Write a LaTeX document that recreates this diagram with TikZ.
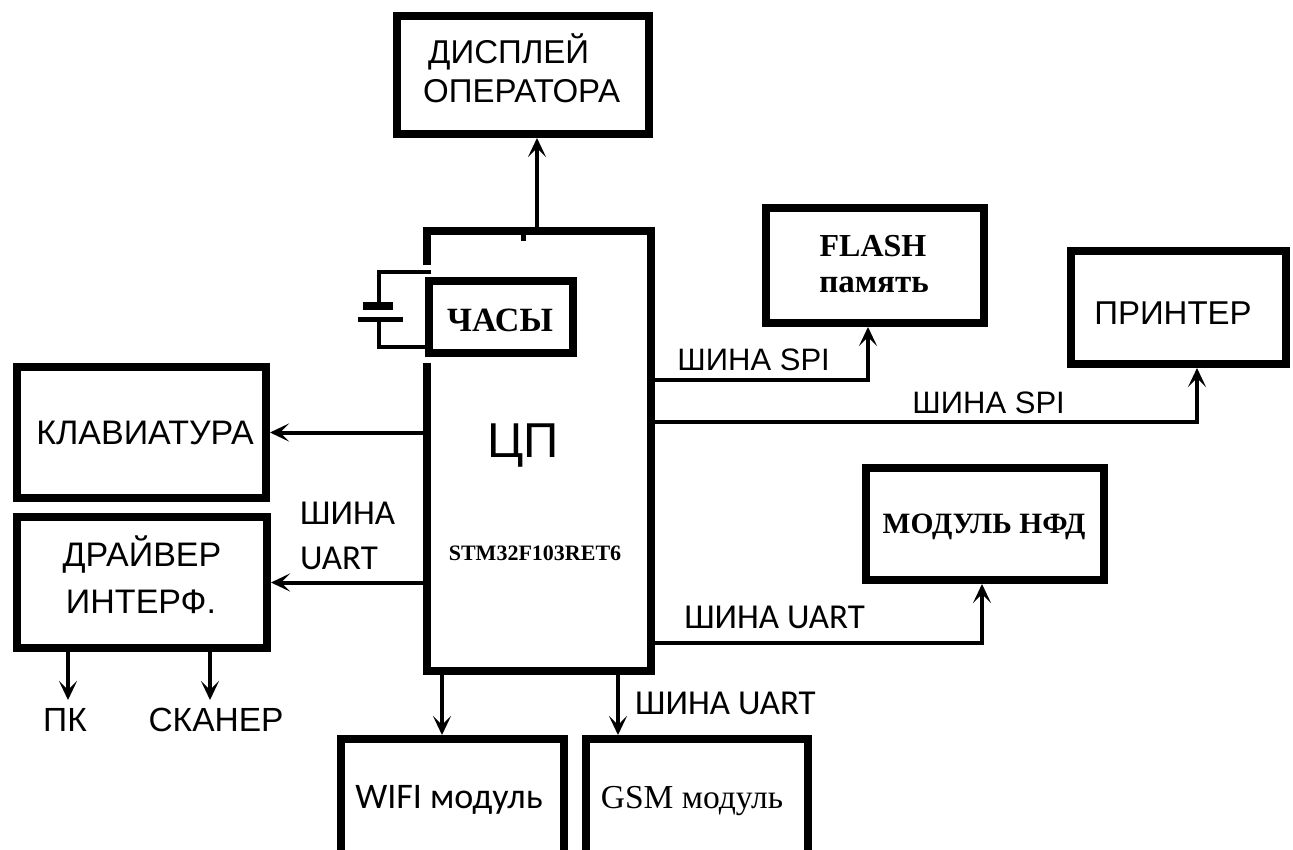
\documentclass[tikz,border=0pt]{standalone}
\usepackage{fontspec}
\newfontfamily\fsans{Liberation Sans}
\newfontfamily\fserif{Liberation Serif}
\newfontfamily\fcal{Carlito}
\usetikzlibrary{arrows.meta}
\tikzset{
  box/.style={draw, line width=8pt, inner sep=0pt},
  conn/.style={line width=4pt, -{Stealth[length=19pt,width=18pt,inset=9pt]}},
  wire/.style={line width=4pt},
  lbl/.style={inner sep=0pt, anchor=base},
  sans/.style={font=\fsans\fontsize{#1}{#1}\selectfont},
  serifb/.style={font=\fserif\bfseries\fontsize{#1}{#1}\selectfont},
  serif/.style={font=\fserif\fontsize{#1}{#1}\selectfont},
  cal/.style={font=\fcal\fontsize{#1}{#1}\selectfont},
}
\begin{document}
\begin{tikzpicture}[x=1pt,y=-1pt]
\useasboundingbox (0,0) rectangle (1293,849);
\clip (0,0) rectangle (1293,849);
\fill[white] (0,0) rectangle (1293,849);
% boxes
\node[box, minimum width=252pt, minimum height=118pt] (disp) at (523,75) {};
\node[box, minimum width=144pt, minimum height=72pt] (clock) at (501,317) {};
\node[inner sep=0pt, outer sep=0pt, minimum width=224pt, minimum height=440pt] (cpu) at (539,451) {};
\node[box, minimum width=218pt, minimum height=115pt] (flash) at (875,265.5) {};
\node[box, minimum width=215pt, minimum height=113pt] (printer) at (1178.5,307.5) {};
\node[box, minimum width=238pt, minimum height=112pt] (nfd) at (985,524) {};
\node[box, minimum width=249pt, minimum height=131pt] (kbd) at (141.5,432.5) {};
\node[box, minimum width=250pt, minimum height=131pt] (drv) at (142,582.5) {};
\node[box, minimum width=223pt, minimum height=132pt] (wifi) at (452.5,805) {};
\node[box, minimum width=222pt, minimum height=132pt] (gsm) at (697,805) {};
% CPU outline with gap for the clock
\draw[line width=8pt] (cpu.north west |- 0,265) -- (cpu.north west) -- (cpu.north east)
  -- (cpu.south east) -- (cpu.south west) -- (cpu.south west |- 0,363);
\draw[line width=5pt] (523,235) -- (523,241);
% battery
\coordinate (bt) at (379,272);
\coordinate (bb) at (379,347);
\draw[wire] (431,272) -- (bt) -- (379,302);
\fill (363,302) rectangle (393,310);
\fill (358,317) rectangle (403,322);
\draw[wire] (379,322) -- (bb) -- (clock.west |- bb);
% free ends
\coordinate (pkend) at (68,700);
\coordinate (scend) at (210,700);
% connectors
\draw[conn] (cpu.north -| 537,0) -- (disp.south -| 537,0);
\draw[conn] (cpu.west |- kbd.east) -- (kbd.east);
\draw[conn] (cpu.west |- drv.east) -- (drv.east);
\draw[conn] (drv.south -| pkend) -- (pkend);
\draw[conn] (drv.south -| scend) -- (scend);
\draw[conn] (cpu.east |- 0,380) -| (flash.south -| 868,0);
\draw[conn] (cpu.east |- 0,422) -| (printer.south -| 1197,0);
\draw[conn] (cpu.east |- 0,643) -| (nfd.south -| 982,0);
\draw[conn] (cpu.south -| 442,0) -- (wifi.north -| 442,0);
\draw[conn] (cpu.south -| 618,0) -- (gsm.north -| 618,0);
% texts
\node[lbl, sans=33, anchor=base west] (tdisp1) at (428,63) {ДИСПЛЕЙ};
\node[lbl, sans=33, anchor=base west] (tdisp2) at (423,102) {ОПЕРАТОРА};
\node[lbl, serifb=34] (tclock) at (500,331) {ЧАСЫ};
\node[lbl, sans=49] (tcpu) at (523,457) {ЦП};
\node[lbl, serifb=22] (tstm) at (535,560) {STM32F103RET6};
\node[lbl, serifb=32] (tflash1) at (873,256) {FLASH};
\node[lbl, serifb=33] (tflash2) at (874,292) {память};
\node[lbl, sans=33] (tprn) at (1173,324) {ПРИНТЕР};
\node[lbl, sans=34] (tkbd) at (145,444) {КЛАВИАТУРА};
\node[lbl, sans=34] (tdrv1) at (142,566) {ДРАЙВЕР};
\node[lbl, sans=34] (tdrv2) at (141,613) {ИНТЕРФ.};
\node[lbl, sans=33.5] (tpk) at (65,731) {ПК};
\node[lbl, sans=33.5] (tsc) at (216,731) {СКАНЕР};
\node[lbl, sans=31, anchor=base east] (tspi1) at (830,370) {ШИНА SPI};
\node[lbl, sans=31, anchor=base east] (tspi2) at (1065,413) {ШИНА SPI};
\node[lbl, cal=35, anchor=base east] (tuart1) at (865,628) {ШИНА UART};
\node[lbl, cal=35, anchor=base west] (tuart2) at (635,714) {ШИНА UART};
\node[lbl, cal=35, anchor=base west] (tuart3a) at (300,524) {ШИНА};
\node[lbl, cal=35, anchor=base west] (tuart3b) at (300,569) {UART};
\node[lbl, serifb=29.5] (tnfd) at (984,533) {МОДУЛЬ НФД};
\node[lbl, cal=36] (twifi) at (449,808) {WIFI модуль};
\node[lbl, serif=33.5] (tgsm) at (692,808) {GSM модуль};
\end{tikzpicture}
\end{document}
